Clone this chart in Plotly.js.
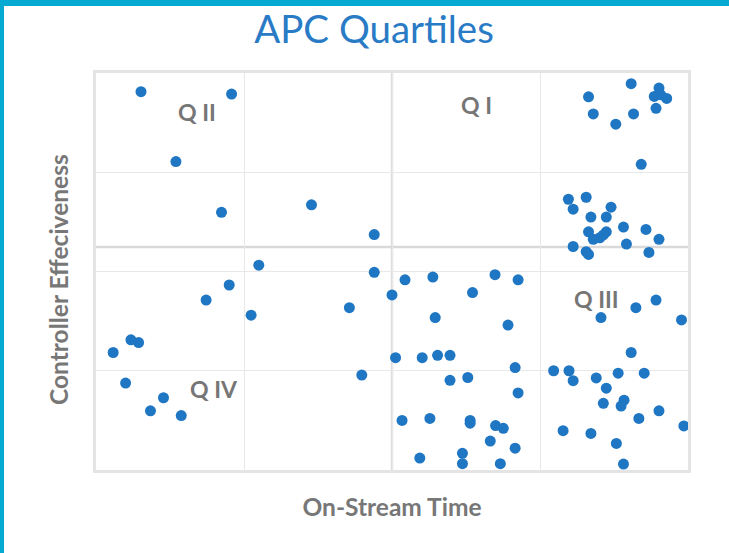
<!DOCTYPE html>
<html>
<head>
<meta charset="utf-8">
<script src="https://cdn.plot.ly/plotly-3.0.1.min.js"></script>
<style>
  html, body { margin: 0; padding: 0; background: #ffffff; }
  #chart { width: 729px; height: 553px; position: absolute; left: 0; top: 0; }
  .bar-top { position: absolute; left: 0; top: 0; width: 729px; height: 6px; background: #05a9d1; }
  .bar-left { position: absolute; left: 0; top: 0; width: 4px; height: 553px; background: #05a9d1; }
</style>
</head>
<body>
<div id="chart"></div>
<div class="bar-top"></div>
<div class="bar-left"></div>
<script>
// On-Stream Time (x, %) and Controller Effectiveness (y, %) for each controller
const onStreamTime = [
  7.6, 22.9, 13.5, 21.2, 36.4, 47.0, 27.5, 47.0, 22.5, 18.6,
  26.2, 42.8, 50.0, 5.9, 7.2, 2.9, 50.6, 44.9, 5.0, 11.4,
  9.2, 14.4, 51.7, 52.2, 56.9, 67.4, 71.3, 63.6, 57.3, 69.6,
  55.1, 57.7, 59.8, 70.8, 59.8, 62.8, 71.3, 56.4, 63.2, 63.2,
  67.5, 68.8, 66.6, 70.8, 54.7, 61.9, 61.9, 68.3, 83.2, 84.0,
  87.8, 90.4, 90.8, 95.1, 94.3, 95.4, 96.4, 94.6, 92.1, 79.8,
  82.8, 80.6, 87.0, 83.6, 86.2, 83.2, 86.2, 84.0, 85.1, 85.7,
  89.1, 92.9, 95.1, 89.6, 80.6, 82.8, 83.2, 93.4, 94.6, 91.2,
  85.3, 98.9, 90.4, 77.3, 79.9, 80.6, 84.5, 88.2, 92.6, 86.2,
  85.7, 89.2, 88.7, 95.1, 91.7, 99.3, 78.9, 83.6, 87.9, 89.1
];
const controllerEffectiveness = [
  95.3, 94.7, 77.7, 64.9, 66.8, 59.3, 51.6, 49.8, 46.6, 42.8,
  39.0, 40.9, 44.1, 32.8, 32.1, 29.6, 28.3, 23.9, 21.9, 18.2,
  14.9, 13.7, 12.5, 47.9, 48.6, 49.2, 47.9, 44.7, 38.4, 36.5,
  28.3, 28.9, 28.9, 25.8, 22.6, 23.3, 19.4, 13.0, 12.5, 11.8,
  11.2, 10.5, 7.3, 5.5, 3.0, 4.2, 1.6, 1.6, 94.0, 89.7,
  87.1, 97.3, 89.7, 96.2, 94.1, 94.5, 93.6, 91.1, 77.0, 68.2,
  68.7, 65.7, 66.2, 63.7, 63.7, 60.0, 60.0, 58.1, 58.5, 59.2,
  61.2, 60.6, 58.1, 56.9, 56.3, 55.0, 54.3, 54.8, 42.8, 40.9,
  38.4, 37.8, 29.6, 25.0, 25.0, 22.5, 23.2, 24.4, 24.4, 20.6,
  16.8, 17.6, 16.1, 14.9, 13.0, 11.1, 9.9, 9.2, 6.7, 1.5
];
// Quadrant boundaries
const quadrantX = [50];
const quadrantY = [56.2];
// Quadrant labels and their positions
const quadrantLabels = ["Q II", "Q I", "Q III", "Q IV"];
const quadrantLabelX = [17.1, 64.2, 84.5, 19.9];
const quadrantLabelY = [90.3, 91.9, 43.1, 20.4];
// Axis titles
const xTitle = 'On-Stream Time';
const yTitle = 'Controller Effeciveness';

const trace = {
  type: 'scatter',
  mode: 'markers',
  x: onStreamTime,
  y: controllerEffectiveness,
  marker: { color: '#1f76c3', size: 11 },
  hoverinfo: 'x+y'
};

const shapes = [];
quadrantX.forEach(v => shapes.push({
  type: 'line', xref: 'x', yref: 'y', x0: v, x1: v, y0: 0, y1: 100,
  line: { color: '#dedede', width: 2.5 }, layer: 'below'
}));
quadrantY.forEach(v => shapes.push({
  type: 'line', xref: 'x', yref: 'y', x0: 0, x1: 100, y0: v, y1: v,
  line: { color: '#d9d9d9', width: 2.5 }, layer: 'below'
}));

const annotations = quadrantLabels.map((t, i) => ({
  text: t, x: quadrantLabelX[i], y: quadrantLabelY[i], xref: 'x', yref: 'y',
  showarrow: false, font: { family: 'Lato', size: 23, color: '#767676', weight: 'bold' }
}));
// y-axis title placed as a rotated annotation (slightly below the plot centre, as in the reference)
annotations.push({
  text: yTitle, xref: 'paper', yref: 'paper',
  x: (58 - 96) / 592, y: (470 - 280) / 397, xanchor: 'center', yanchor: 'middle',
  textangle: -90, showarrow: false,
  font: { family: 'Lato', size: 24.5, color: '#777777', weight: 'bold' }
});

const axisCommon = {
  range: [0, 100], dtick: 25, tick0: 0,
  showticklabels: false, ticks: '',
  showgrid: true, gridcolor: '#e8e8e8', gridwidth: 1,
  zeroline: false, showline: true, mirror: true,
  linecolor: '#e4e4e4', linewidth: 3
};

const layout = {
  width: 729, height: 553,
  margin: { l: 96, r: 41, t: 73, b: 83 },
  paper_bgcolor: '#ffffff', plot_bgcolor: '#ffffff',
  showlegend: false,
  title: {
    text: 'APC Quartiles',
    font: { family: 'Lato', size: 38.5, color: '#2a7bc6' },
    xref: 'container', x: 374 / 729, xanchor: 'center',
    yref: 'container', y: 1 - 30 / 553, yanchor: 'middle'
  },
  xaxis: Object.assign({}, axisCommon, {
    title: { text: xTitle, standoff: 27,
      font: { family: 'Lato', size: 24.5, color: '#777777', weight: 'bold' } }
  }),
  yaxis: Object.assign({}, axisCommon),
  shapes: shapes,
  annotations: annotations
};

Plotly.newPlot('chart', [trace], layout, { displayModeBar: false, staticPlot: true });
</script>
</body>
</html>
